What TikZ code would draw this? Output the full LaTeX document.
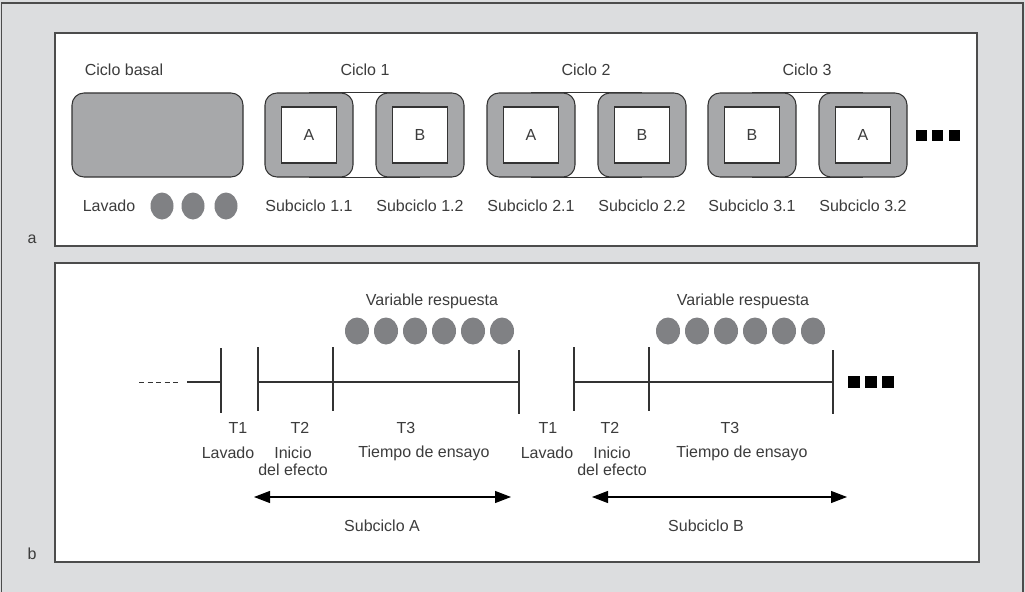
\documentclass[tikz,border=0pt]{standalone}
\usepackage{fontspec}
\setmainfont{Liberation Sans}
\usetikzlibrary{arrows.meta,backgrounds}

\definecolor{fondo}{HTML}{DCDDDF}
\definecolor{gris}{HTML}{A7A8AA}
\definecolor{oscuro}{HTML}{808184}
\definecolor{texto}{HTML}{3C3C3C}

\tikzset{
  txt/.style={text=texto,font=\fontsize{12}{12.75}\selectfont,inner sep=0pt},
  panel/.style={draw=black!70,line width=0.8pt,fill=white},
  subbox/.style={draw=black!80,line width=0.8pt,fill=gris,rounded corners=9pt,
    minimum width=66pt,minimum height=63pt,inner sep=0pt},
  letra/.style={txt,draw=black!80,line width=0.8pt,fill=white,
    minimum width=41.25pt,minimum height=42pt},
  gota/.style={fill=oscuro},
  flecha/.style={{Triangle[length=12pt,width=9pt]}-{Triangle[length=12pt,width=9pt]},
    line width=0.8pt}
}

\begin{document}
\begin{tikzpicture}[x=0.75pt,y=-0.75pt]
  \useasboundingbox (0,0) rectangle (1025,592);

  % frame and the two panels
  \begin{scope}[on background layer]
    \fill[fondo] (0,0) rectangle (1025,592);
    \draw[black!70,line width=0.8pt] (1.5,592) -- (1.5,3) -- (1023,3) -- (1023,592);
    \draw[panel] (55,33) rectangle (977,246);
    \draw[panel] (55,263) rectangle (979,562);
  \end{scope}
  \node[txt] (pa) at (32,239) {a};
  \node[txt] (pb) at (32,554) {b};

  % panel a
  \node[txt] (basal) at (124,70) {Ciclo basal};
  \node[subbox,minimum width=128.25pt] (s0) at (157.5,135) {};
  \node[txt] (lav) at (109,206) {Lavado};
  \fill[gota] (162,206) ellipse (11.5 and 13.5);
  \fill[gota] (193,206) ellipse (11.5 and 13.5);
  \fill[gota] (226,206) ellipse (11.5 and 13.5);

  \foreach \c/\s/\x/\l in {1/1/309/A,1/2/420/B,2/1/531/A,2/2/642/B,3/1/752/B,3/2/863/A}{
    \node[subbox] (s\c\s) at (\x,135) {};
    \node[letra] (l\c\s) at (s\c\s) {\l};
    \node[txt] (n\c\s) at (\x,206) {Subciclo \c.\s};
  }
  \node[txt] (c1) at (365,70) {Ciclo 1};
  \node[txt] (c2) at (586,70) {Ciclo 2};
  \node[txt] (c3) at (807,70) {Ciclo 3};

  \begin{scope}[on background layer]
    \foreach \c in {1,2,3}
      \draw[black!80,line width=0.6pt] (s\c1.north) -- (s\c2.north) (s\c1.south) -- (s\c2.south);
  \end{scope}

  \fill (916,130) rectangle +(11,11);
  \fill (932,130) rectangle +(11,11);
  \fill (949,130) rectangle +(11,11);

  % panel b
  \coordinate (d0) at (139,382);
  \coordinate (d1) at (179,382);
  \coordinate (e0) at (187,382);
  \draw[black!80,line width=0.6pt,dash pattern=on 4pt off 2.4pt] (d0) -- (d1);

  \foreach \n/\x/\a/\b in {t1/221/348/413,t2/258/347/411,t3/333/347/411,t4/519/350/414,
                           t5/574/347/411,t6/649/347/411,t7/833/350/414}{
    \coordinate (\n a) at (\x,\a);
    \coordinate (\n b) at (\x,\b);
    \draw[black!80,line width=0.8pt] (\n a) -- (\n b);
  }
  \draw[black!80,line width=0.8pt] (e0) -- (e0 -| t1a);
  \draw[black!80,line width=0.8pt] (t2a |- e0) -- (t4a |- e0);
  \draw[black!80,line width=0.8pt] (t5a |- e0) -- (t7a |- e0);

  \node[txt] (va) at (432,301) {Variable respuesta};
  \node[txt] (vb) at (743,301) {Variable respuesta};
  \foreach \i in {0,...,5}{
    \fill[gota] (357+29*\i,331) ellipse (12 and 13.5);
    \fill[gota] (668+29*\i,331) ellipse (12 and 13.5);
  }

  \node[txt] (ta1) at (238,428) {T1};
  \node[txt] (ta2) at (300,428) {T2};
  \node[txt] (ta3) at (406,428) {T3};
  \node[txt] (la) at (228,453) {Lavado};
  \node[txt,align=center] (ia) at (293,461) {Inicio\\del efecto};
  \node[txt] (ea) at (424,453) {Tiempo de ensayo};

  \node[txt] (tb1) at (548,428) {T1};
  \node[txt] (tb2) at (610,428) {T2};
  \node[txt] (tb3) at (730,428) {T3};
  \node[txt] (lb) at (547,453) {Lavado};
  \node[txt,align=center] (ib) at (612,461) {Inicio\\del efecto};
  \node[txt] (eb) at (742,453) {Tiempo de ensayo};

  \coordinate (fa0) at (254,497);
  \coordinate (fa1) at (511,497);
  \coordinate (fb0) at (592,497);
  \coordinate (fb1) at (847,497);
  \draw[flecha] (fa0) -- (fa1);
  \draw[flecha] (fb0) -- (fb1);
  \node[txt] (sa) at (382,526) {Subciclo A};
  \node[txt] (sb) at (706,526) {Subciclo B};

  \fill (848,376) rectangle +(12,12);
  \fill (865,376) rectangle +(12,12);
  \fill (882,376) rectangle +(12,12);
\end{tikzpicture}
\end{document}
